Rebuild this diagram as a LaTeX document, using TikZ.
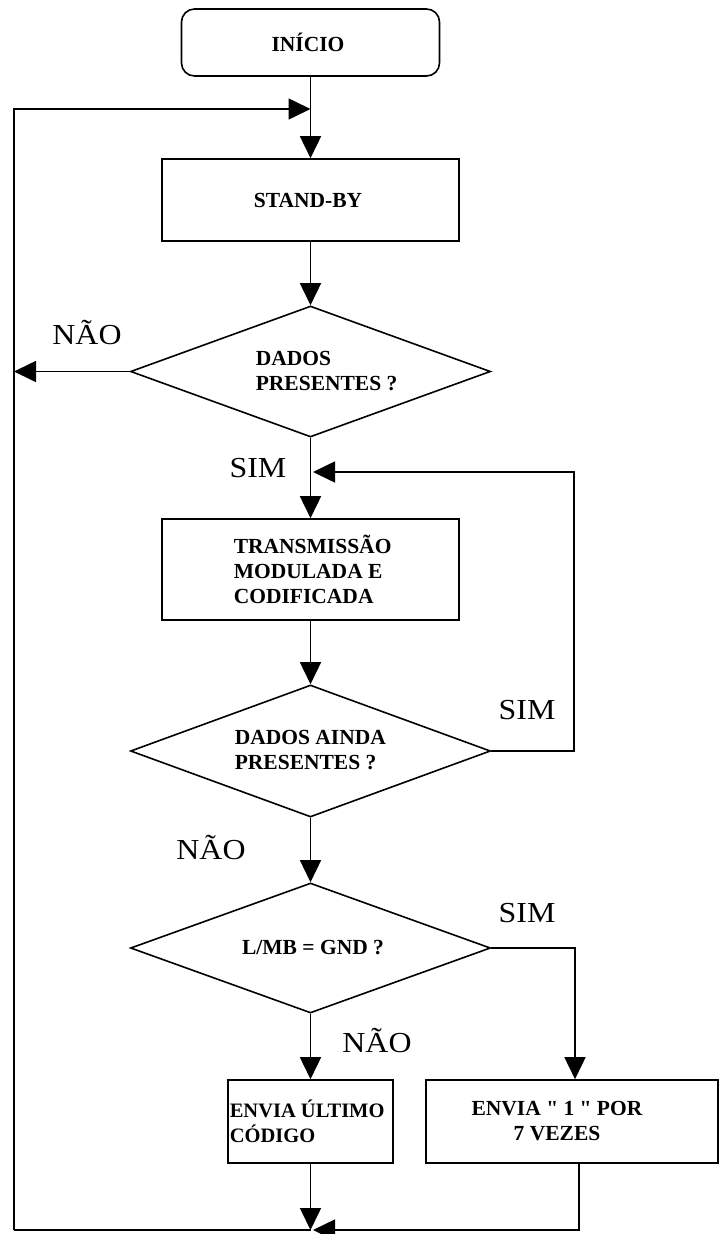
\documentclass[tikz,border=0pt]{standalone}
\usepackage{fontspec}
\setmainfont{Liberation Serif}[Ligatures=TeXOff]
\usetikzlibrary{shapes.geometric,arrows.meta}
\newcommand{\widelabel}[1]{\scalebox{1.1}[1]{#1}}
\begin{document}
\begin{tikzpicture}[x=1pt,y=-1pt,line width=1.6pt,
  flow/.style={-{Triangle[length=22pt,width=21pt]}},
  box/.style={draw,rectangle,inner sep=0pt},
  rbox/.style={draw,rectangle,rounded corners=13pt,inner sep=0pt},
  dia/.style={draw,diamond,inner sep=0pt},
  btext/.style={font=\fontsize{21.5}{25}\selectfont\bfseries,inner sep=0pt},
  lab/.style={font=\fontsize{29}{29}\selectfont,inner sep=0pt}]
\useasboundingbox (0,0) rectangle (720,1234);

% process steps
\node[rbox,minimum width=258pt,minimum height=67pt] (inicio) at (310.5,42.5) {};
\node[btext] (inicioT) at (308,42.5) {INÍCIO};
\node[box,minimum width=297pt,minimum height=82pt] (standby) at (310.5,200) {};
\node[btext] (standbyT) at (308,200) {STAND-BY};
\node[dia,minimum width=360pt,minimum height=131pt] (d1) at (310.5,371.5) {};
\node[btext,anchor=west,align=left] (d1T) at (255,371.5) {DADOS\\PRESENTES ?};
\node[box,minimum width=297pt,minimum height=101pt] (trans) at (310.5,569.5) {};
\node[btext,anchor=west,align=left] (transT) at (233,569.5) {TRANSMISSÃO\\MODULADA E\\CODIFICADA};
\node[dia,minimum width=360pt,minimum height=132pt] (d2) at (310.5,751) {};
\node[btext,anchor=west,align=left] (d2T) at (234,750.5) {DADOS AINDA\\PRESENTES ?};
\node[dia,minimum width=360pt,minimum height=130pt] (d3) at (310.5,948) {};
\node[btext] (d3T) at (313,948) {L/MB = GND ?};
\node[box,minimum width=165pt,minimum height=83pt] (ult) at (310.5,1121.5) {};
\node[btext,anchor=west,align=left,font=\fontsize{20.5}{25}\selectfont\bfseries] (ultT) at (229,1121.5) {ENVIA ÚLTIMO\\CÓDIGO};
\node[box,minimum width=292pt,minimum height=83pt] (vezes) at (572,1121.5) {};
\node[btext,align=center] (vezesT) at (557,1121.5) {ENVIA " 1 " POR\\7 VEZES};

% branch labels
\node[lab] (nao1) at (87,333) {\widelabel{NÃO}};
\node[lab] (sim1) at (258,468) {\widelabel{SIM}};
\node[lab] (sim2) at (527,710) {\widelabel{SIM}};
\node[lab] (nao2) at (211,847) {\widelabel{NÃO}};
\node[lab] (sim3) at (527,913) {\widelabel{SIM}};
\node[lab] (nao3) at (377,1040) {\widelabel{NÃO}};

% auxiliary points of the return paths
\coordinate (lt) at (14,109);
\coordinate (lb) at (14,1230);
\coordinate (top) at (310.5,109);
\coordinate (join) at (310.5,1230);
\coordinate (joinR) at (313,1230);
\coordinate (loopin) at (313,472);
\coordinate (rloop) at (574,472);

% main flow
\draw[flow] (inicio.south) -- (standby.north);
\draw[flow] (standby.south) -- (d1.north);
\draw[flow] (d1.south) -- (trans.north);
\draw[flow] (trans.south) -- (d2.north);
\draw[flow] (d2.south) -- (d3.north);
\draw[flow] (d3.south) -- (ult.north);
\draw[flow] (d3.east) -| ([xshift=3pt]vezes.north);
\draw[flow] (d2.east) -| (rloop) -- (loopin);
\draw[flow] (d1.west) -- (d1.west -| lt);

% return to stand-by
\draw[flow] (ult.south) -- (join);
\draw[flow] ([xshift=7pt]vezes.south) |- (joinR);
\draw (join) -- (lb);
\draw[flow] (lb) -- (lt) -- (top);
\end{tikzpicture}
\end{document}
